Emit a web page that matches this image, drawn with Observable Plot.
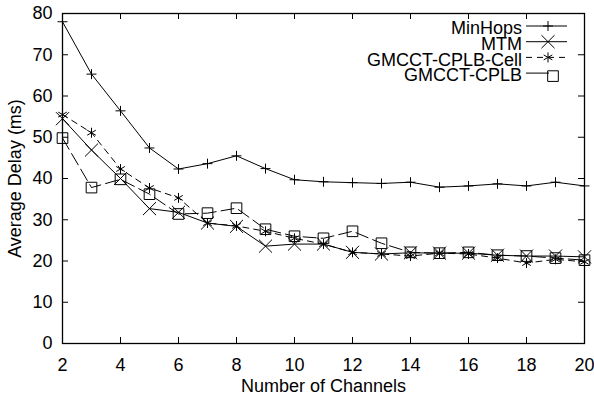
<!DOCTYPE html>
<html><head><meta charset="utf-8">
<script src="https://cdn.jsdelivr.net/npm/d3@7"></script>
<script src="https://cdn.jsdelivr.net/npm/@observablehq/plot@0.6"></script>
<style>
body{margin:0;background:#fff;}
#chart{width:594px;height:398px;}
svg{font-family:"Liberation Sans",Arial,Helvetica,sans-serif;}
</style></head><body><div id="chart"></div>
<script>
const channels = [2,3,4,5,6,7,8,9,10,11,12,13,14,15,16,17,18,19,20];
const minHops  = [78.0,65.3,56.4,47.4,42.3,43.6,45.5,42.4,39.7,39.2,39.0,38.8,39.1,37.9,38.2,38.7,38.2,39.1,38.2];
const mtm      = [54.5,46.9,40.0,32.7,31.8,29.2,28.4,23.6,24.1,24.1,22.1,21.7,22.0,21.9,21.9,21.4,21.2,21.2,21.0];
const cell     = [55.5,51.1,42.3,37.7,35.3,29.2,28.5,27.2,25.5,24.1,22.1,21.7,21.2,21.9,21.7,20.7,19.5,20.4,19.8];
const cplb     = [49.8,37.8,39.8,36.2,31.4,31.6,32.8,27.7,26.0,25.5,27.2,24.3,22.1,21.9,22.1,21.4,21.2,20.7,20.2];
const seriesNames = ["MinHops","MTM","GMCCT-CPLB-Cell","GMCCT-CPLB"];
const seriesValues = [minHops, mtm, cell, cplb];
const xTicks = [2,4,6,8,10,12,14,16,18,20];
const yTicks = [0,10,20,30,40,50,60,70,80];
const xLabel = "Number of Channels";
const yLabel = "Average Delay (ms)";

const W = 594, H = 398, mL = 62, mR = 10, mT = 13, mB = 55;
const iW = W - mL - mR, iH = H - mT - mB;
const FS = 18;
const styles = [
  {symbol: "plus", r: 3.3, dash: null, d3sym: d3.symbolPlus, lx2: 567},
  {symbol: "times", r: 6, dash: null, d3sym: d3.symbolTimes, lx2: 567},
  {symbol: "asterisk", r: 4.7, dash: "6,5", d3sym: d3.symbolAsterisk, lx2: 567},
  {symbol: "square", r: 6, dash: "13,5", d3sym: d3.symbolSquare, lx2: 549}
];

const rows = seriesNames.flatMap((name, k) =>
  seriesValues[k].map((v, i) => ({series: name, x: channels[i], y: v})));

const marks = [];
seriesNames.forEach((name, k) => {
  const data = rows.filter(d => d.series === name);
  const s = styles[k];
  marks.push(Plot.line(data, {x: "x", y: "y", stroke: "black", strokeWidth: 1, strokeDasharray: s.dash}));
  marks.push(Plot.dot(data, {x: "x", y: "y", symbol: s.symbol, r: s.r, stroke: "black", fill: "none", strokeWidth: 1}));
});

const chart = Plot.plot({
  width: W, height: H,
  marginLeft: mL, marginRight: mR, marginTop: mT, marginBottom: mB,
  style: {fontFamily: '"Liberation Sans",Arial,sans-serif', fontSize: FS + "px", background: "#fff", color: "#000"},
  x: {domain: [2, 20]},
  y: {domain: [0, 80]},
  marks: [
    Plot.tickX(xTicks, {x: d => d, insetTop: iH - 6, stroke: "black"}),
    Plot.tickX(xTicks, {x: d => d, insetBottom: iH - 6, stroke: "black"}),
    Plot.tickY(yTicks, {y: d => d, insetRight: iW - 6, stroke: "black"}),
    Plot.tickY(yTicks, {y: d => d, insetLeft: iW - 6, stroke: "black"}),
    Plot.axisX(xTicks, {tickSize: 0, tickPadding: 15, fontSize: FS, label: xLabel, labelAnchor: "center", labelArrow: "none", labelOffset: 48}),
    Plot.axisY(yTicks, {tickSize: 0, tickPadding: 10, fontSize: FS, label: yLabel, labelAnchor: "center", labelArrow: "none", labelOffset: 54}),
    ...marks,
    Plot.frame({stroke: "black", strokeWidth: 1.3})
  ]
});

// legend inside the plot, top-right
const svg = d3.select(chart);
const g = svg.append("g").attr("class", "legend");
seriesNames.forEach((name, k) => {
  const cy = 26 + 15.7 * k;
  const s = styles[k];
  g.append("text").attr("x", 522).attr("y", cy + 2).attr("dy", "0.35em")
    .attr("text-anchor", "end").attr("font-size", FS).attr("fill", "black").text(name);
  g.append("line").attr("x1", 526).attr("x2", s.lx2).attr("y1", cy).attr("y2", cy)
    .attr("stroke", "black").attr("stroke-width", 1).attr("stroke-dasharray", k === 3 ? null : s.dash);
  g.append("path").attr("transform", `translate(${k === 3 ? 553 : 548},${k === 3 ? cy + 3 : cy})`)
    .attr("d", d3.symbol(s.d3sym, Math.PI * s.r * s.r)())
    .attr("stroke", "black").attr("fill", "none").attr("stroke-width", 1);
});

document.getElementById("chart").appendChild(chart);
</script>
</body></html>
